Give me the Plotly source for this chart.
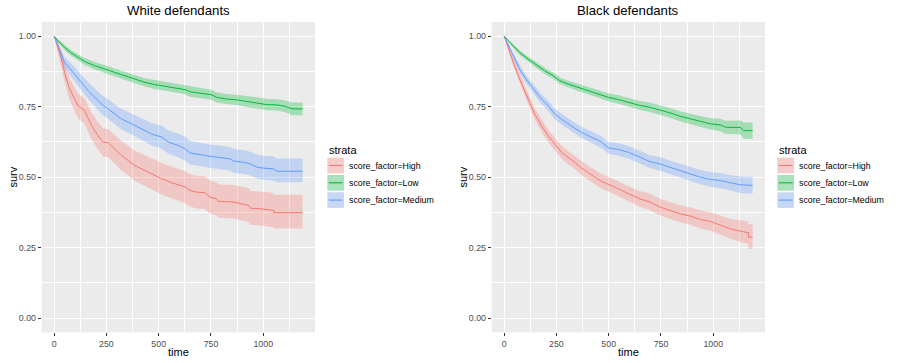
import plotly.graph_objects as go

# ---------------- data ----------------
panel_titles = ["White defendants", "Black defendants"]
strata_labels = ["score_factor=High", "score_factor=Low", "score_factor=Medium"]
x_ticks = [0, 250, 500, 750, 1000]
y_ticks = [0.00, 0.25, 0.50, 0.75, 1.00]

# White defendants
w_high_t = [0, 18, 34, 50, 74, 98, 114, 146, 178, 210, 234, 258, 290, 322, 354, 386, 434, 482, 515, 563,
            601, 627, 649, 681, 721, 745, 777, 785, 857, 930, 938, 986, 1050, 1050, 1188]
w_high_s = [1.0, 0.960, 0.925, 0.871, 0.8125, 0.777, 0.753, 0.736, 0.683, 0.647, 0.624, 0.622, 0.600, 0.577,
            0.559, 0.541, 0.524, 0.506, 0.494, 0.480, 0.470, 0.465, 0.453, 0.447, 0.445, 0.429, 0.423, 0.414,
            0.412, 0.400, 0.390, 0.388, 0.382, 0.374, 0.374]
w_high_lo = [1.0, 0.940, 0.897, 0.837, 0.773, 0.734, 0.708, 0.689, 0.634, 0.597, 0.573, 0.571, 0.548, 0.524,
             0.506, 0.487, 0.469, 0.451, 0.438, 0.424, 0.413, 0.408, 0.396, 0.389, 0.387, 0.371, 0.365, 0.356,
             0.353, 0.341, 0.331, 0.329, 0.322, 0.318, 0.318]
w_high_hi = [1.0, 0.978, 0.951, 0.903, 0.850, 0.818, 0.796, 0.780, 0.730, 0.695, 0.673, 0.671, 0.650, 0.628,
             0.611, 0.594, 0.578, 0.561, 0.550, 0.537, 0.527, 0.522, 0.511, 0.505, 0.503, 0.488, 0.482, 0.474,
             0.472, 0.461, 0.452, 0.450, 0.445, 0.438, 0.438]

w_low_t = [0, 18, 50, 82, 114, 146, 194, 250, 290, 338, 386, 434, 482, 531, 579, 627, 649, 697, 753, 777,
           825, 873, 922, 970, 1018, 1066, 1106, 1138, 1188]
w_low_s = [1.0, 0.983, 0.960, 0.940, 0.925, 0.910, 0.895, 0.881, 0.871, 0.860, 0.848, 0.836, 0.828, 0.822,
           0.815, 0.810, 0.803, 0.798, 0.792, 0.783, 0.777, 0.774, 0.768, 0.763, 0.757, 0.756, 0.751, 0.742, 0.742]
w_low_lo = [1.0, 0.977, 0.951, 0.930, 0.914, 0.898, 0.882, 0.867, 0.856, 0.845, 0.833, 0.821, 0.812, 0.806,
            0.799, 0.794, 0.785, 0.780, 0.774, 0.765, 0.759, 0.756, 0.748, 0.743, 0.737, 0.736, 0.730, 0.719, 0.719]
w_low_hi = [1.0, 0.989, 0.969, 0.950, 0.936, 0.922, 0.908, 0.895, 0.886, 0.875, 0.863, 0.851, 0.844, 0.838,
            0.831, 0.826, 0.821, 0.816, 0.810, 0.801, 0.795, 0.792, 0.788, 0.783, 0.777, 0.776, 0.772, 0.765, 0.765]

w_med_t = [0, 18, 34, 50, 74, 98, 130, 162, 194, 226, 258, 290, 322, 370, 418, 466, 515, 547, 595, 627,
           649, 697, 745, 777, 841, 857, 905, 938, 970, 1002, 1050, 1066, 1188]
w_med_s = [1.0, 0.966, 0.930, 0.907, 0.886, 0.866, 0.836, 0.807, 0.783, 0.759, 0.742, 0.724, 0.706, 0.689,
           0.671, 0.653, 0.642, 0.624, 0.612, 0.600, 0.586, 0.579, 0.574, 0.571, 0.565, 0.557, 0.553, 0.547,
           0.535, 0.532, 0.529, 0.521, 0.521]
w_med_lo = [1.0, 0.954, 0.912, 0.887, 0.863, 0.840, 0.808, 0.777, 0.751, 0.725, 0.707, 0.688, 0.669, 0.651,
            0.632, 0.613, 0.601, 0.583, 0.570, 0.558, 0.545, 0.538, 0.533, 0.530, 0.524, 0.516, 0.512, 0.506,
            0.494, 0.491, 0.488, 0.482, 0.482]
w_med_hi = [1.0, 0.977, 0.947, 0.926, 0.908, 0.891, 0.863, 0.836, 0.814, 0.792, 0.776, 0.759, 0.742, 0.726,
            0.709, 0.692, 0.682, 0.665, 0.654, 0.643, 0.628, 0.621, 0.616, 0.613, 0.607, 0.600, 0.596, 0.590,
            0.579, 0.576, 0.574, 0.566, 0.566]

# Black defendants
b_high_t = [0, 18, 34, 50, 74, 98, 122, 146, 178, 210, 242, 274, 298, 338, 370, 402, 434, 466, 506, 547,
            595, 627, 649, 697, 745, 793, 841, 890, 938, 986, 1034, 1082, 1114, 1146, 1168, 1168, 1188]
b_high_s = [1.0, 0.960, 0.925, 0.895, 0.848, 0.807, 0.765, 0.724, 0.683, 0.647, 0.618, 0.588, 0.574, 0.553,
            0.532, 0.515, 0.500, 0.485, 0.473, 0.459, 0.441, 0.429, 0.423, 0.412, 0.394, 0.382, 0.370, 0.362,
            0.350, 0.343, 0.329, 0.317, 0.311, 0.305, 0.303, 0.287, 0.287]
b_high_lo = [1.0, 0.952, 0.914, 0.882, 0.833, 0.790, 0.746, 0.704, 0.662, 0.625, 0.595, 0.565, 0.550, 0.529,
             0.507, 0.490, 0.474, 0.459, 0.447, 0.432, 0.414, 0.401, 0.395, 0.383, 0.365, 0.352, 0.340, 0.331,
             0.318, 0.310, 0.295, 0.282, 0.274, 0.266, 0.263, 0.245, 0.245]
b_high_hi = [1.0, 0.968, 0.936, 0.908, 0.863, 0.824, 0.784, 0.744, 0.704, 0.669, 0.641, 0.611, 0.598, 0.577,
             0.557, 0.540, 0.526, 0.511, 0.499, 0.486, 0.468, 0.457, 0.451, 0.441, 0.423, 0.412, 0.400, 0.393,
             0.382, 0.376, 0.363, 0.352, 0.349, 0.344, 0.343, 0.333, 0.333]

b_low_t = [0, 34, 74, 114, 154, 194, 234, 266, 306, 354, 402, 450, 498, 547, 595, 627, 649, 697, 745, 793,
           841, 890, 938, 986, 1034, 1058, 1130, 1146, 1188]
b_low_s = [1.0, 0.972, 0.942, 0.919, 0.897, 0.877, 0.860, 0.842, 0.830, 0.818, 0.807, 0.795, 0.783, 0.775,
           0.765, 0.759, 0.754, 0.748, 0.739, 0.728, 0.716, 0.706, 0.697, 0.689, 0.685, 0.677, 0.676, 0.665, 0.665]
b_low_lo = [1.0, 0.966, 0.934, 0.910, 0.887, 0.866, 0.849, 0.830, 0.818, 0.805, 0.794, 0.781, 0.769, 0.760,
            0.750, 0.743, 0.738, 0.731, 0.722, 0.711, 0.698, 0.687, 0.678, 0.669, 0.663, 0.654, 0.651, 0.636, 0.636]
b_low_hi = [1.0, 0.978, 0.950, 0.928, 0.907, 0.888, 0.871, 0.854, 0.842, 0.831, 0.820, 0.809, 0.797, 0.790,
            0.780, 0.775, 0.770, 0.765, 0.756, 0.745, 0.734, 0.725, 0.716, 0.709, 0.707, 0.700, 0.701, 0.694, 0.694]

b_med_t = [0, 18, 34, 50, 74, 98, 122, 146, 178, 210, 242, 274, 306, 338, 370, 418, 466, 498, 547, 595,
           627, 649, 697, 745, 793, 841, 890, 938, 986, 1034, 1082, 1130, 1188]
b_med_s = [1.0, 0.972, 0.942, 0.919, 0.883, 0.854, 0.830, 0.807, 0.777, 0.754, 0.724, 0.706, 0.689, 0.673,
           0.659, 0.642, 0.624, 0.604, 0.598, 0.588, 0.579, 0.571, 0.555, 0.547, 0.535, 0.524, 0.512, 0.500,
           0.492, 0.488, 0.480, 0.473, 0.471]
b_med_lo = [1.0, 0.966, 0.934, 0.909, 0.871, 0.840, 0.815, 0.791, 0.760, 0.736, 0.705, 0.687, 0.670, 0.653,
            0.639, 0.621, 0.603, 0.583, 0.576, 0.566, 0.556, 0.548, 0.532, 0.523, 0.511, 0.500, 0.487, 0.475,
            0.466, 0.461, 0.453, 0.444, 0.441]
b_med_hi = [1.0, 0.978, 0.950, 0.929, 0.895, 0.868, 0.845, 0.823, 0.794, 0.772, 0.743, 0.725, 0.708, 0.693,
            0.679, 0.663, 0.645, 0.625, 0.620, 0.610, 0.602, 0.594, 0.578, 0.571, 0.559, 0.548, 0.537, 0.525,
            0.518, 0.515, 0.507, 0.502, 0.501]

# ---------------- styling ----------------
W, H = 900, 363
FONT = "Liberation Sans"
line_colors = ["#F8766D", "#00BA38", "#619CFF"]
band_colors = ["rgba(248,118,109,0.3)", "rgba(0,186,56,0.3)", "rgba(97,156,255,0.3)"]


def px(x):
    return x / W


def py(y):
    return 1 - y / H


panels = [
    [(w_high_t, w_high_s, w_high_lo, w_high_hi),
     (w_low_t, w_low_s, w_low_lo, w_low_hi),
     (w_med_t, w_med_s, w_med_lo, w_med_hi)],
    [(b_high_t, b_high_s, b_high_lo, b_high_hi),
     (b_low_t, b_low_s, b_low_lo, b_low_hi),
     (b_med_t, b_med_s, b_med_lo, b_med_hi)],
]

fig = go.Figure()
offsets = [0, 450]
for p, strata in enumerate(panels):
    xa = "x" if p == 0 else "x2"
    ya = "y" if p == 0 else "y2"
    for k, (t, s, lo, hi) in enumerate(strata):
        fig.add_trace(go.Scatter(x=t, y=lo, mode="lines", line=dict(width=0, color=band_colors[k]),
                                 xaxis=xa, yaxis=ya, showlegend=False, hoverinfo="skip"))
        fig.add_trace(go.Scatter(x=t, y=hi, mode="lines", line=dict(width=0, color=band_colors[k]),
                                 fill="tonexty", fillcolor=band_colors[k],
                                 xaxis=xa, yaxis=ya, showlegend=False, hoverinfo="skip"))
    for k, (t, s, lo, hi) in enumerate(strata):
        fig.add_trace(go.Scatter(x=t, y=s, mode="lines", line=dict(width=1, color=line_colors[k]),
                                 xaxis=xa, yaxis=ya, showlegend=False, name=strata_labels[k]))

x_range = [-59.4, 1247.4]
y_range = [-0.05, 1.05]
dom_y = [py(332.3), py(22)]
dom_x = [[px(41.7), px(315)], [px(491.7), px(765)]]

axis_common = dict(showgrid=True, gridcolor="white", gridwidth=1.1, zeroline=False, showline=False,
                   ticks="outside", ticklen=3, tickwidth=1, tickcolor="#333333",
                   tickfont=dict(family=FONT, size=8.8, color="#4D4D4D"))

for p in range(2):
    sfx = "" if p == 0 else "2"
    fig.layout["xaxis" + sfx] = dict(domain=dom_x[p], range=x_range, anchor="y" + sfx,
                                     tickmode="array", tickvals=x_ticks, ticktext=[str(v) for v in x_ticks],
                                     minor=dict(showgrid=True, gridcolor="white", gridwidth=0.55,
                                                tickmode="linear", tick0=0, dtick=125, ticks=""),
                                     **axis_common)
    fig.layout["yaxis" + sfx] = dict(domain=dom_y, range=y_range, anchor="x" + sfx,
                                     tickmode="array", tickvals=y_ticks,
                                     ticktext=["%.2f" % v for v in y_ticks],
                                     minor=dict(showgrid=True, gridcolor="white", gridwidth=0.55,
                                                tickmode="linear", tick0=0, dtick=0.125, ticks=""),
                                     **axis_common)

annotations = []
shapes = []
for p in range(2):
    off = offsets[p]
    cx = (41.7 + 315) / 2 + off
    annotations.append(dict(text=panel_titles[p], x=px(cx), y=py(11), xref="paper", yref="paper",
                            showarrow=False, xanchor="center", yanchor="middle",
                            font=dict(family=FONT, size=13.2, color="black")))
    annotations.append(dict(text="time", x=px(cx), y=py(351.5), xref="paper", yref="paper",
                            showarrow=False, xanchor="center", yanchor="middle",
                            font=dict(family=FONT, size=11, color="black")))
    annotations.append(dict(text="surv", x=px(12.5 + off), y=py(177), xref="paper", yref="paper",
                            showarrow=False, xanchor="center", yanchor="middle", textangle=-90,
                            font=dict(family=FONT, size=11, color="black")))
    # legend (drawn manually, ggplot style)
    lx = 327.3 + off
    annotations.append(dict(text="strata", x=px(lx), y=py(149.5), xref="paper", yref="paper",
                            showarrow=False, xanchor="left", yanchor="middle",
                            font=dict(family=FONT, size=11, color="black")))
    for k in range(3):
        top = 157.7 + 17.3 * k
        bot = top + 15.6
        shapes.append(dict(type="rect", xref="paper", yref="paper", x0=px(lx), x1=px(lx + 16.7),
                           y0=py(bot), y1=py(top), fillcolor="#F2F2F2", line=dict(width=0), layer="above"))
        shapes.append(dict(type="rect", xref="paper", yref="paper", x0=px(lx), x1=px(lx + 16.7),
                           y0=py(bot), y1=py(top), fillcolor=band_colors[k], line=dict(width=0), layer="above"))
        cy = (top + bot) / 2
        shapes.append(dict(type="line", xref="paper", yref="paper", x0=px(lx + 1.5), x1=px(lx + 15.2),
                           y0=py(cy), y1=py(cy), line=dict(color=line_colors[k], width=1.1), layer="above"))
        annotations.append(dict(text=strata_labels[k], x=px(lx + 19.4), y=py(cy), xref="paper", yref="paper",
                                showarrow=False, xanchor="left", yanchor="middle",
                                font=dict(family=FONT, size=8.8, color="black")))

fig.update_layout(width=W, height=H, autosize=False, margin=dict(l=0, r=0, t=0, b=0, pad=0),
                  paper_bgcolor="white", plot_bgcolor="#EBEBEB", showlegend=False,
                  annotations=annotations, shapes=shapes, font=dict(family=FONT))

fig.write_html("out.html", config={"displayModeBar": False},
               post_script="document.body.style.margin='0';document.body.style.padding='0';"
                           "document.body.style.overflow='hidden';")
